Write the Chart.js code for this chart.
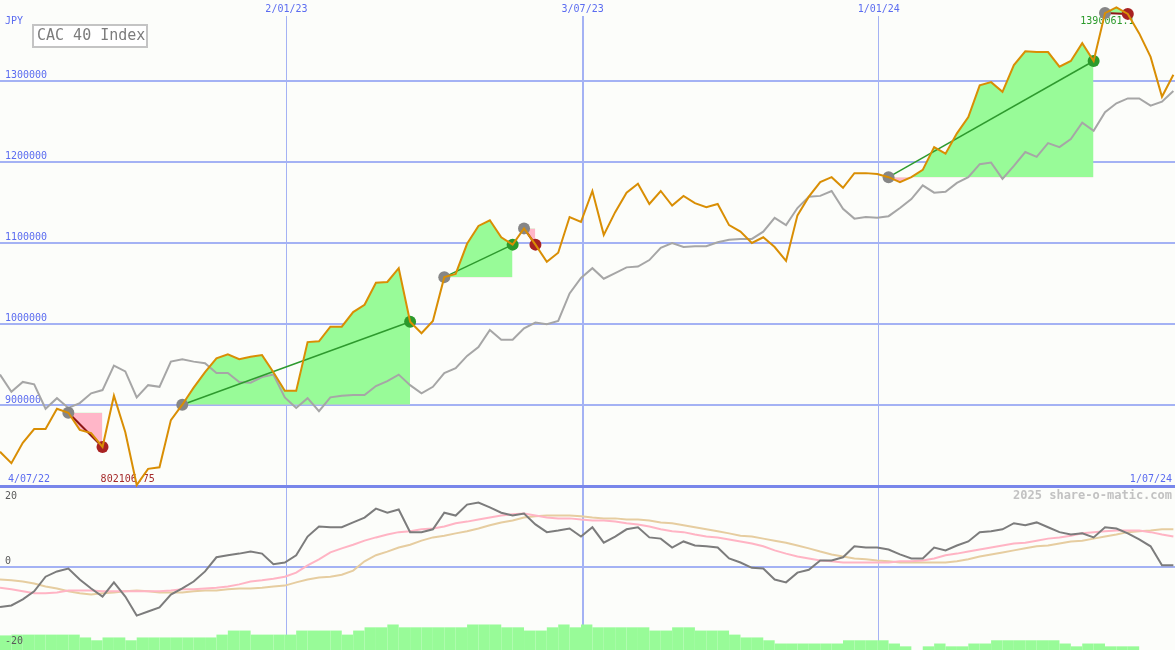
<!DOCTYPE html>
<html>
<head>
<meta charset="utf-8">
<title>CAC 40 Index</title>
<script src="https://cdn.jsdelivr.net/npm/chart.js@4.4.1/dist/chart.umd.min.js"></script>
<style>
  html, body { margin: 0; padding: 0; background: #fcfdfa; }
  #wrap { position: relative; width: 1175px; height: 650px; overflow: hidden; }
  #priceChart { position: absolute; left: 0; top: 0; }
  #momentumChart { position: absolute; left: 0; top: 488px; }
</style>
</head>
<body>
<div id="wrap">
  <canvas id="priceChart" width="1175" height="488"></canvas>
  <canvas id="momentumChart" width="1175" height="162"></canvas>
</div>
<script>
'use strict'

// weekly closes, first one 6 days after 4/07/22
const firstDay = 6;
const gridDays = [182, 364, 546];
const gridLabels = ['2/01/23', '3/07/23', '1/01/24'];
const rangeLabels = ['4/07/22', '1/07/24'];
const currency = 'JPY';
const title = 'CAC 40 Index';
const watermark = '2025 share-o-matic.com';
const priceTicks = [800000, 900000, 1000000, 1100000, 1200000, 1300000];
const momentumTicks = [20, 0, -20];

const cacClose = [
  843000, 829000, 854000, 871000, 871000, 896000, 891000, 870000, 866000, 849000,
  912000, 867000, 802106.75, 822000, 824000, 882000, 901000, 922000, 941000, 958000,
  963000, 957000, 960000, 962000, 941000, 918000, 918000, 978000, 979000, 997000,
  997000, 1015000, 1024000, 1051000, 1052000, 1069000, 1003000, 989000, 1004000, 1058000,
  1062000, 1099000, 1121000, 1128000, 1107000, 1098000, 1118000, 1098000, 1077000, 1088000,
  1132000, 1126000, 1164000, 1110000, 1138000, 1162000, 1173000, 1148000, 1164000, 1146000,
  1158000, 1149000, 1144000, 1148000, 1122000, 1114000, 1100000, 1107000, 1095000, 1078000,
  1134000, 1157000, 1175000, 1181000, 1168000, 1186000, 1186000, 1185000, 1181000, 1175000,
  1181000, 1190000, 1218000, 1210000, 1235000, 1255000, 1294000, 1298000, 1286000, 1319000,
  1336000, 1335000, 1335000, 1317000, 1324000, 1346000, 1324000, 1383000, 1390061.1, 1382000,
  1358000, 1329000, 1280000, 1307000
];

// comparison line (grey), on the same scale
const compareClose = [
  938000, 917000, 929000, 926000, 896000, 909000, 897000, 903000, 915000, 919000,
  949000, 942000, 910000, 925000, 923000, 954000, 957000, 954000, 952000, 940000,
  940000, 929000, 928000, 935000, 938000, 910000, 897000, 909000, 893000, 910000,
  912000, 913000, 913000, 924000, 930000, 938000, 925000, 915000, 923000, 940000,
  946000, 961000, 972000, 993000, 981000, 981000, 995000, 1002000, 1000000, 1004000,
  1038000, 1057000, 1069000, 1056000, 1063000, 1070000, 1071000, 1079000, 1094000, 1100000,
  1095000, 1096000, 1096000, 1101000, 1104000, 1105000, 1105000, 1114000, 1131000, 1122000,
  1143000, 1157000, 1158000, 1164000, 1142000, 1130000, 1132000, 1131000, 1133000, 1143000,
  1154000, 1171000, 1162000, 1163000, 1174000, 1181000, 1197000, 1199000, 1179000, 1195000,
  1212000, 1206000, 1223000, 1218000, 1228000, 1248000, 1238000, 1261000, 1272000, 1278000,
  1278000, 1269000, 1274000, 1287000
];

// trades: week index of entry and exit
const tradeEntry = [6, 16, 39, 46, 78, 97];
const tradeExit = [9, 36, 45, 47, 96, 99];

const momentum = [
  -9.9, -9.5, -8.0, -6.0, -2.4, -1.1, -0.4, -3.1, -5.3, -7.3,
  -3.8, -7.3, -12.0, -11.0, -10.0, -6.8, -5.3, -3.6, -1.1, 2.4,
  2.9, 3.3, 3.8, 3.3, 0.7, 1.1, 2.9, 7.5, 10.0, 9.8,
  9.8, 11.0, 12.2, 14.4, 13.4, 14.2, 8.6, 8.6, 9.3, 13.4,
  12.7, 15.4, 15.9, 14.7, 13.4, 12.7, 13.2, 10.5, 8.6, 9.0,
  9.5, 7.5, 9.8, 6.0, 7.5, 9.3, 9.8, 7.3, 7.0, 4.8,
  6.3, 5.3, 5.1, 4.8, 2.1, 1.1, -0.2, -0.4, -3.1, -3.8,
  -1.4, -0.7, 1.6, 1.6, 2.4, 5.1, 4.8, 4.8, 4.3, 3.1,
  2.1, 2.1, 4.8, 4.1, 5.3, 6.3, 8.6, 8.8, 9.3, 10.8,
  10.3, 11.0, 9.8, 8.6, 8.0, 8.3, 7.3, 9.8, 9.5, 8.3,
  6.8, 5.1, 0.4, 0.4
];

const fastAvg = [
  -5.1, -5.5, -6.0, -6.5, -6.5, -6.3, -5.8, -5.8, -5.8, -6.0,
  -6.0, -6.0, -6.0, -6.0, -6.0, -5.8, -5.5, -5.5, -5.3, -5.1,
  -4.8, -4.3, -3.6, -3.3, -2.9, -2.4, -1.4, 0.4, 1.9, 3.6,
  4.6, 5.5, 6.5, 7.3, 8.0, 8.6, 8.8, 9.3, 9.5, 10.0,
  10.8, 11.2, 11.7, 12.2, 12.7, 13.0, 13.2, 12.7, 12.2, 12.0,
  12.0, 11.7, 11.5, 11.5, 11.2, 10.8, 10.5, 10.0, 9.3, 8.8,
  8.6, 8.0, 7.5, 7.3, 6.8, 6.3, 5.8, 5.1, 4.1, 3.3,
  2.6, 2.1, 1.6, 1.4, 1.1, 1.1, 1.1, 1.1, 1.1, 1.4,
  1.4, 1.6, 2.1, 2.9, 3.3, 3.8, 4.3, 4.8, 5.3, 5.8,
  6.0, 6.5, 7.0, 7.3, 7.7, 8.3, 8.6, 8.8, 9.0, 9.0,
  9.0, 8.6, 8.0, 7.5
];

const slowAvg = [
  -3.1, -3.3, -3.6, -4.1, -4.8, -5.3, -6.0, -6.5, -6.8, -6.5,
  -6.3, -6.0, -5.8, -6.0, -6.3, -6.3, -6.3, -6.0, -5.8, -5.8,
  -5.5, -5.3, -5.3, -5.1, -4.8, -4.6, -3.8, -3.1, -2.6, -2.4,
  -1.9, -0.9, 1.4, 2.9, 3.8, 4.8, 5.5, 6.5, 7.3, 7.7,
  8.3, 8.8, 9.5, 10.3, 11.0, 11.5, 12.2, 12.5, 12.7, 12.7,
  12.7, 12.5, 12.2, 12.0, 12.0, 11.7, 11.7, 11.5, 11.0, 10.8,
  10.3, 9.8, 9.3, 8.8, 8.3, 7.7, 7.5, 7.0, 6.5, 6.0,
  5.3, 4.6, 3.8, 3.1, 2.6, 2.1, 1.9, 1.6, 1.4, 1.1,
  1.1, 1.1, 1.1, 1.1, 1.4, 1.9, 2.6, 3.1, 3.6, 4.1,
  4.6, 5.1, 5.3, 5.8, 6.3, 6.5, 7.0, 7.5, 8.0, 8.6,
  8.8, 9.0, 9.3, 9.3
];

const volBars = [
  -16.9, -16.7, -16.7, -16.7, -16.7, -16.7, -16.7, -17.4, -18.1, -17.4,
  -17.4, -18.1, -17.4, -17.4, -17.4, -17.4, -17.4, -17.4, -17.4, -16.7,
  -15.7, -15.7, -16.7, -16.7, -16.7, -16.7, -15.7, -15.7, -15.7, -15.7,
  -16.7, -15.7, -14.9, -14.9, -14.2, -14.9, -14.9, -14.9, -14.9, -14.9,
  -14.9, -14.2, -14.2, -14.2, -14.9, -14.9, -15.7, -15.7, -14.9, -14.2,
  -14.9, -14.2, -14.9, -14.9, -14.9, -14.9, -14.9, -15.7, -15.7, -14.9,
  -14.9, -15.7, -15.7, -15.7, -16.7, -17.4, -17.4, -18.1, -18.9, -18.9,
  -18.9, -18.9, -18.9, -18.9, -18.1, -18.1, -18.1, -18.1, -18.9, -19.6,
  null, -19.6, -18.9, -19.6, -19.6, -18.9, -18.9, -18.1, -18.1, -18.1,
  -18.1, -18.1, -18.1, -18.9, -19.6, -18.9, -18.9, -19.6, -19.6, -19.6,
  null, null, null, null
];

const bg = '#fcfdfa';
const blue = '#5b6cf0';
const gridBlue = '#a4b2f4';
const monoFont = '"DejaVu Sans Mono", monospace';

function dayOf(i) {
  return firstDay + 7 * i;
}

function points(values, shift) {
  let out = [];
  for (let i = 0; i < values.length; i++) {
    if (values[i] !== null) out.push({ x: dayOf(i) + (shift || 0), y: values[i] });
  }
  return out;
}

function xAxis() {
  return {
    type: 'linear',
    min: firstDay,
    max: 728,
    offset: false,
    afterBuildTicks: axis => { axis.ticks = gridDays.map(v => ({ value: v })); },
    ticks: { display: false },
    grid: {
      color: gridBlue,
      lineWidth: ctx => (ctx.tick && ctx.tick.value === 364 ? 2 : 1),
      drawTicks: false,
      offset: false
    },
    border: { display: false }
  };
}

// ---------- price panel ----------
let tradeFills = [];
let tradeLines = [];
let markerPts = [];
let markerColors = [];

for (let t = 0; t < tradeEntry.length; t++) {
  let a = tradeEntry[t];
  let b = tradeExit[t];
  let won = cacClose[b] > cacClose[a];
  let seg = [];
  for (let i = a; i <= b; i++) seg.push({ x: dayOf(i), y: cacClose[i] });

  tradeFills.push({
    data: seg,
    borderWidth: 0,
    pointRadius: 0,
    fill: { target: { value: cacClose[a] }, above: '#98fb98', below: '#ffb6c8' },
    order: 5
  });
  tradeLines.push({
    data: [seg[0], seg[seg.length - 1]],
    borderColor: won ? '#2e9a2e' : '#8e1616',
    borderWidth: won ? 1.5 : 2,
    pointRadius: 0,
    fill: false,
    order: 2
  });
  markerPts.push(seg[0], seg[seg.length - 1]);
  markerColors.push('#868686', won ? '#2b9a2b' : '#a82222');
}

const priceText = {
  id: 'priceText',
  beforeDatasetsDraw(chart) {
    const { ctx, scales: { x, y } } = chart;
    ctx.save();
    ctx.textBaseline = 'middle';
    ctx.font = '10px ' + monoFont;

    gridDays.forEach((d, i) => {
      let px = x.getPixelForValue(d);
      ctx.fillStyle = bg;
      ctx.fillRect(px - 3, 0, 6, 16);
      ctx.fillStyle = blue;
      ctx.textAlign = 'center';
      ctx.fillText(gridLabels[i], px, 9);
    });

    ctx.fillStyle = blue;
    ctx.textAlign = 'left';
    ctx.fillText(currency, 5, 21);
    priceTicks.forEach(v => {
      if (v > priceTicks[0]) ctx.fillText(String(v), 5, y.getPixelForValue(v) - 5.5);
    });
    ctx.fillText(rangeLabels[0], 8, 479);
    ctx.textAlign = 'right';
    ctx.fillText(rangeLabels[1], 1172, 479);

    let lo = Math.min(...cacClose);
    let hi = Math.max(...cacClose);
    ctx.textAlign = 'center';
    ctx.fillStyle = '#a52a2a';
    ctx.fillText(String(lo), x.getPixelForValue(dayOf(cacClose.indexOf(lo))) - 9, y.getPixelForValue(lo) - 6);
    ctx.fillStyle = '#2a9a2a';
    ctx.fillText(String(hi), x.getPixelForValue(dayOf(cacClose.indexOf(hi))) - 9, y.getPixelForValue(hi) + 14);

    ctx.fillStyle = '#ffffff';
    ctx.fillRect(33, 25, 114, 22);
    ctx.strokeStyle = '#c4c4c4';
    ctx.lineWidth = 2;
    ctx.strokeRect(33, 25, 114, 22);
    ctx.fillStyle = '#7c7c7c';
    ctx.font = '15px ' + monoFont;
    ctx.textAlign = 'left';
    ctx.fillText(title, 37, 36.5);
    ctx.restore();
  }
};

new Chart(document.getElementById('priceChart'), {
  type: 'line',
  data: {
    datasets: [
      { data: points(cacClose), borderColor: '#d98e04', borderWidth: 2, pointRadius: 0, tension: 0, order: 0 },
      { data: markerPts, showLine: false, pointRadius: 6, pointBorderWidth: 0,
        pointBackgroundColor: markerColors, order: 1 },
      ...tradeLines,
      { data: points(compareClose), borderColor: '#a6a6a6', borderWidth: 2, pointRadius: 0, tension: 0, order: 3 },
      ...tradeFills
    ]
  },
  options: {
    responsive: false,
    animation: false,
    layout: { padding: 0, autoPadding: false },
    plugins: { legend: { display: false }, tooltip: { enabled: false } },
    scales: {
      x: xAxis(),
      y: {
        type: 'linear',
        min: 798460,
        max: 1399080,
        afterBuildTicks: axis => { axis.ticks = priceTicks.map(v => ({ value: v })); },
        ticks: { display: false },
        grid: {
          color: ctx => (ctx.tick && ctx.tick.value === priceTicks[0] ? '#7886ea' : gridBlue),
          lineWidth: ctx => (ctx.tick && ctx.tick.value === priceTicks[0] ? 3 : 2),
          drawTicks: false
        },
        border: { display: false }
      }
    }
  },
  plugins: [priceText]
});

// ---------- momentum panel ----------
const momentumText = {
  id: 'momentumText',
  afterDatasetsDraw(chart) {
    const { ctx, scales: { y } } = chart;
    ctx.save();
    ctx.textBaseline = 'middle';
    ctx.font = '10px ' + monoFont;
    ctx.fillStyle = '#5a5a5a';
    ctx.textAlign = 'left';
    momentumTicks.forEach(v => {
      let py = Math.min(Math.max(y.getPixelForValue(v) - 6, 8), chart.height - 9);
      ctx.fillText(String(v), 5, py);
    });
    ctx.font = 'bold 12px ' + monoFont;
    ctx.fillStyle = '#c2c2c2';
    ctx.textAlign = 'right';
    ctx.fillText(watermark, 1172, 8);
    ctx.restore();
  }
};

new Chart(document.getElementById('momentumChart'), {
  type: 'line',
  data: {
    datasets: [
      { data: points(momentum), borderColor: '#7c7c7c', borderWidth: 2, pointRadius: 0, tension: 0, order: 0 },
      { data: points(fastAvg), borderColor: '#ffb4c4', borderWidth: 2, pointRadius: 0, tension: 0, order: 1 },
      { data: points(slowAvg), borderColor: '#e6cda0', borderWidth: 2, pointRadius: 0, tension: 0, order: 2 },
      { type: 'bar', data: points(volBars, 3.5), base: -20.5, backgroundColor: '#98fb98',
        borderWidth: 0, barPercentage: 1, categoryPercentage: 1, inflateAmount: 0, order: 3 }
    ]
  },
  options: {
    responsive: false,
    animation: false,
    layout: { padding: 0, autoPadding: false },
    plugins: { legend: { display: false }, tooltip: { enabled: false } },
    scales: {
      x: xAxis(),
      y: {
        type: 'linear',
        min: -20.5,
        max: 19.5,
        afterBuildTicks: axis => { axis.ticks = [{ value: 0 }]; },
        ticks: { display: false },
        grid: { color: gridBlue, lineWidth: 2, drawTicks: false },
        border: { display: false }
      }
    }
  },
  plugins: [momentumText]
});
</script>
</body>
</html>
